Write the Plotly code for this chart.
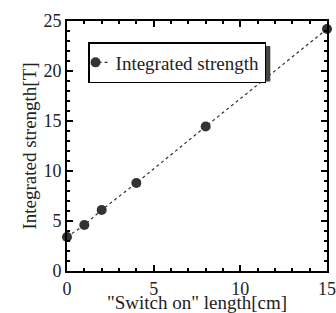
import plotly.graph_objects as go

switch_len = [0, 1, 2, 4, 8, 15]
strength = [3.4, 4.6, 6.1, 8.8, 14.45, 24.2]

x_ticks = [0, 5, 10, 15]
y_ticks = [0, 5, 10, 15, 20, 25]

x_title = '"Switch on" length[cm]'
y_title = "Integrated strength[T]"

FONT = "Liberation Serif"
C = "#333333"
TXT = "#222222"

fig = go.Figure()
fig.add_trace(go.Scatter(
    x=switch_len, y=strength, mode="lines+markers", name="Integrated strength",
    line=dict(color=C, width=1.2, dash="dot"),
    marker=dict(color=C, size=10),
    cliponaxis=False,
))

axis_common = dict(
    showgrid=False, zeroline=False, showline=True, linecolor="black", linewidth=2,
    mirror="allticks", ticks="inside", ticklen=6, tickwidth=1.5, tickcolor="black",
    tickfont=dict(family=FONT, size=18, color=TXT), automargin=False,
    minor=dict(ticks="inside", ticklen=3, tickwidth=1.5, tickcolor="black", dtick=1),
)

fig.update_xaxes(range=[0, 15], tickvals=x_ticks,
                 title=dict(text=x_title, font=dict(family=FONT, size=19, color=TXT), standoff=0),
                 **axis_common)
fig.update_yaxes(range=[0, 25], tickvals=y_ticks,
                 title=dict(text=y_title, font=dict(family=FONT, size=19, color=TXT), standoff=2),
                 **axis_common)

# legend shadow
fig.add_shape(type="rect", xref="paper", yref="paper",
              x0=0.095, x1=0.782, y0=0.758, y1=0.9,
              fillcolor="#444", line=dict(width=0), layer="above")

fig.update_layout(
    width=336, height=313,
    margin=dict(l=67, r=9, t=21, b=42),
    paper_bgcolor="white", plot_bgcolor="white",
    showlegend=True,
    legend=dict(x=0.081, y=0.916, xanchor="left", yanchor="top",
                bgcolor="white", bordercolor="black", borderwidth=1.5,
                font=dict(family=FONT, size=19, color=TXT),
                itemwidth=30, tracegroupgap=0, indentation=-14),
    font=dict(family=FONT),
)

fig.write_html("out.html", config={"displayModeBar": False},
               post_script="document.body.style.margin='0';")
